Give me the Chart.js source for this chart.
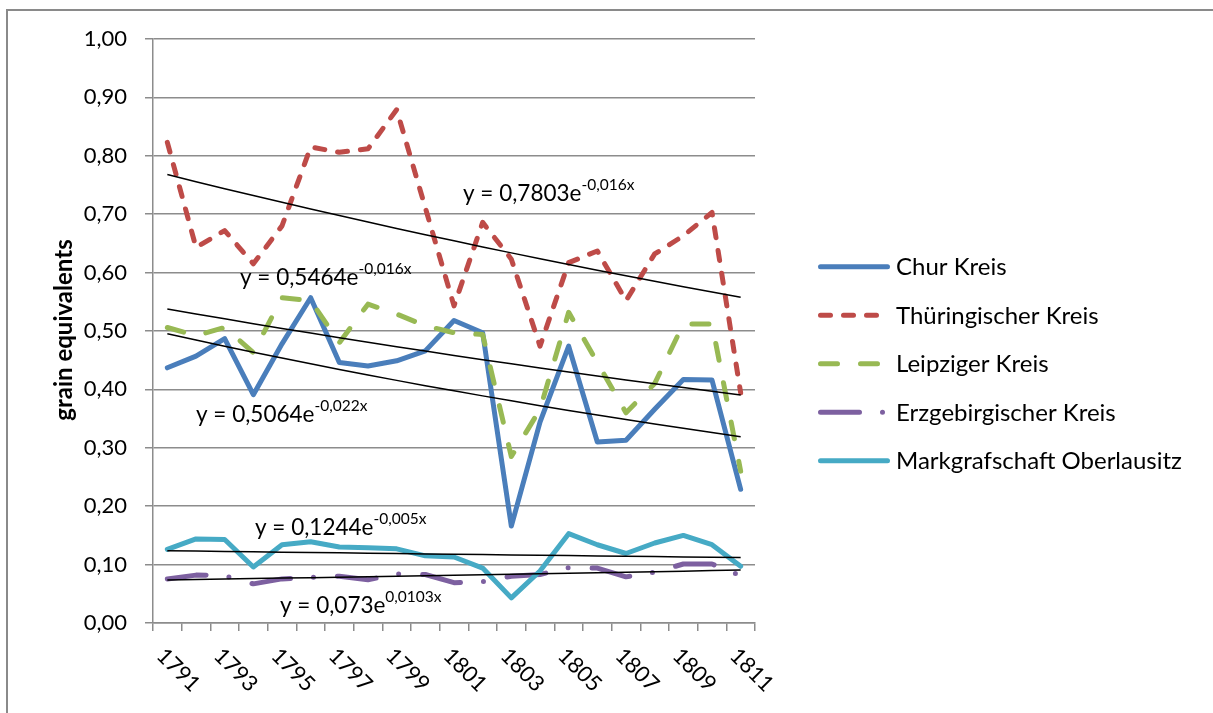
<!DOCTYPE html>
<html>
<head>
<meta charset="utf-8">
<script src="https://cdn.jsdelivr.net/npm/chart.js@4.4.1/dist/chart.umd.min.js"></script>
<style>
html, body { margin: 0; padding: 0; background: #fff; overflow: hidden; }
canvas { display: block; }
</style>
</head>
<body>
<canvas id="chart" width="1213" height="713"></canvas>
<script>
// Years on the category axis
const years = ['1791','1792','1793','1794','1795','1796','1797','1798','1799','1800',
               '1801','1802','1803','1804','1805','1806','1807','1808','1809','1810','1811'];

// Grain equivalents per district
const churKreis = [0.437, 0.457, 0.487, 0.391, 0.478, 0.557, 0.446, 0.440, 0.449, 0.466,
                   0.518, 0.497, 0.166, 0.344, 0.474, 0.310, 0.313, 0.366, 0.417, 0.416, 0.229];
const thueringischerKreis = [0.823, 0.643, 0.672, 0.615, 0.680, 0.815, 0.806, 0.812, 0.879, 0.711,
                             0.543, 0.686, 0.623, 0.474, 0.617, 0.637, 0.552, 0.632, 0.663, 0.703, 0.394];
const leipzigerKreis = [0.506, 0.492, 0.506, 0.463, 0.557, 0.552, 0.480, 0.546, 0.529, 0.509,
                        0.497, 0.494, 0.285, 0.366, 0.532, 0.446, 0.360, 0.410, 0.512, 0.512, 0.260];
const erzgebirgischerKreis = [0.0755, 0.082, 0.081, 0.067, 0.0755, 0.078, 0.080, 0.074, 0.084, 0.083,
                              0.069, 0.071, 0.080, 0.083, 0.095, 0.094, 0.079, 0.087, 0.101, 0.101, 0.081];
const oberlausitz = [0.126, 0.144, 0.143, 0.096, 0.134, 0.139, 0.130, 0.129, 0.127, 0.115,
                     0.113, 0.094, 0.043, 0.089, 0.153, 0.134, 0.119, 0.137, 0.150, 0.134, 0.097];

const seriesNames = ['Chur Kreis', 'Thüringischer Kreis', 'Leipziger Kreis',
                     'Erzgebirgischer Kreis', 'Markgrafschaft Oberlausitz'];
const seriesValues = [churKreis, thueringischerKreis, leipzigerKreis, erzgebirgischerKreis, oberlausitz];

// Exponential trend lines y = a·e^(b·x), x = 1 … 21, one per series
const trendA = [0.5064, 0.7803, 0.5464, 0.073, 0.1244];
const trendB = [-0.022, -0.016, -0.016, 0.0103, -0.005];

// Styling
const seriesStyles = [
  { color: '#4a7ebb', dash: [] },
  { color: '#be4b48', dash: [10, 13] },
  { color: '#98b954', dash: [17, 23] },
  { color: '#7d60a0', dash: [39, 23, 0, 24] },
  { color: '#46aac5', dash: [] }
];
// Where each trend equation is written (left edge, baseline)
const equationAnchors = [[196, 422], [463, 201], [240, 285], [280, 613], [255, 535]];

const FONT = 'Lato, "Open Sans", sans-serif';
const GRID = '#8c8c8c';

const datasets = [];
seriesValues.forEach((vals, j) => {
  datasets.push({
    label: seriesNames[j],
    data: vals,
    borderColor: seriesStyles[j].color,
    backgroundColor: seriesStyles[j].color,
    borderWidth: 5,
    borderDash: seriesStyles[j].dash,
    borderCapStyle: 'round',
    borderJoinStyle: 'round',
    pointRadius: 0,
    tension: 0,
    fill: false,
    order: 5 - j
  });
});
trendA.forEach((a, j) => {
  datasets.push({
    label: 'trend ' + seriesNames[j],
    data: years.map((_, i) => a * Math.exp(trendB[j] * (i + 1))),
    borderColor: '#000',
    borderWidth: 1.5,
    pointRadius: 0,
    tension: 0,
    fill: false,
    order: 0
  });
});

function fmt(n) { return String(n).replace('.', ','); }

const decorations = {
  id: 'decorations',
  beforeDraw(chart) {
    const ctx = chart.ctx;
    ctx.save();
    ctx.fillStyle = '#fff';
    ctx.fillRect(0, 0, chart.width, chart.height);
    ctx.strokeStyle = '#8a8a8a';
    ctx.lineWidth = 2;
    ctx.strokeRect(7, 10, 1400, 900);
    ctx.restore();
  },
  afterDraw(chart) {
    const ctx = chart.ctx;
    const xs = chart.scales.x;
    ctx.save();
    ctx.fillStyle = '#000';

    // rotated year labels, every second year
    ctx.font = '22px ' + FONT;
    ctx.textAlign = 'center';
    ctx.textBaseline = 'middle';
    years.forEach((y, i) => {
      if (i % 2 !== 0) return;
      const px = xs.getPixelForValue(i);
      ctx.save();
      ctx.translate(px + 11, 670);
      ctx.rotate(Math.PI / 4);
      ctx.fillText(y, 0, 0);
      ctx.restore();
    });

    // y-axis title
    ctx.save();
    ctx.translate(64, 330);
    ctx.rotate(-Math.PI / 2);
    ctx.font = 'bold 24px ' + FONT;
    ctx.fillText('grain equivalents', 0, 0);
    ctx.restore();

    // legend
    ctx.textAlign = 'left';
    ctx.textBaseline = 'middle';
    seriesNames.forEach((name, j) => {
      const y = 266.7 + 48.5 * j;
      ctx.save();
      ctx.strokeStyle = seriesStyles[j].color;
      ctx.lineWidth = 5;
      ctx.lineCap = 'round';
      ctx.setLineDash(seriesStyles[j].dash);
      ctx.beginPath();
      ctx.moveTo(820.5, y);
      ctx.lineTo(887.5, y);
      ctx.stroke();
      ctx.restore();
      ctx.font = '24px ' + FONT;
      ctx.fillText(name, 896, y + 1);
    });

    // trend equations
    ctx.textBaseline = 'alphabetic';
    trendA.forEach((a, j) => {
      const [x0, y0] = equationAnchors[j];
      const main = 'y = ' + fmt(a) + 'e';
      const sup = fmt(trendB[j]) + 'x';
      ctx.font = '22.5px ' + FONT;
      ctx.fillText(main, x0, y0);
      const w = ctx.measureText(main).width;
      ctx.font = '15.5px ' + FONT;
      ctx.fillText(sup, x0 + w, y0 - 11);
    });
    ctx.restore();
  }
};

new Chart(document.getElementById('chart'), {
  type: 'line',
  data: { labels: years, datasets },
  options: {
    responsive: false,
    animation: false,
    devicePixelRatio: 1,
    layout: { padding: { left: 0, top: 39, right: 458, bottom: 0 } },
    plugins: { legend: { display: false }, tooltip: { enabled: false } },
    scales: {
      x: {
        type: 'category',
        offset: true,
        grid: { offset: true, drawOnChartArea: false, drawTicks: true, tickLength: 8, color: GRID, lineWidth: 1.5 },
        border: { display: true, color: GRID, width: 1.5 },
        ticks: { display: false },
        afterFit(s) { s.height = 90; }
      },
      y: {
        min: 0,
        max: 1,
        ticks: {
          stepSize: 0.1,
          padding: 18,
          color: '#000',
          font: { family: FONT, size: 22 },
          callback: v => v.toFixed(2).replace('.', ',')
        },
        grid: { color: GRID, lineWidth: 1.5, tickLength: 8 },
        border: { display: true, color: GRID, width: 1.5 },
        afterFit(s) { s.width = 153; }
      }
    }
  },
  plugins: [decorations]
});
</script>
</body>
</html>
